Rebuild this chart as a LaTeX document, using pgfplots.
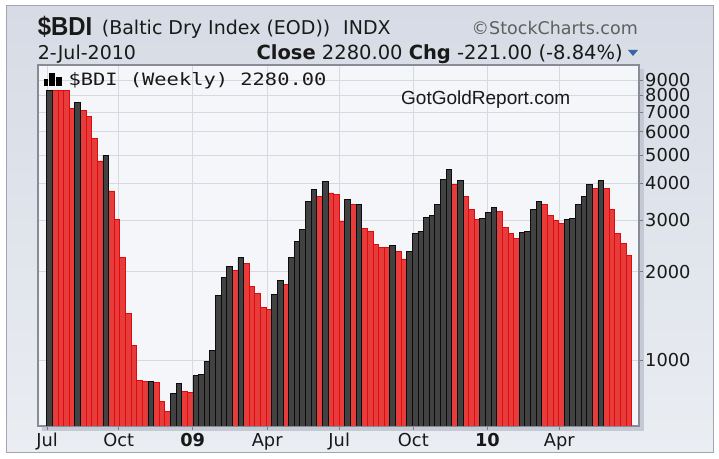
\documentclass[border=0pt]{standalone}
\usepackage{fontspec}
\setmainfont{DejaVu Sans}
\newfontfamily\arialf{Liberation Sans}
\newfontfamily\monof[FakeStretch=1.2]{DejaVu Sans Mono}
\usepackage{graphicx}
\usepackage{pgfplots}
\pgfplotsset{compat=1.18}

\definecolor{panelTop}{RGB}{214,219,229}
\definecolor{panelBot}{RGB}{234,237,242}
\definecolor{framec}{RGB}{160,165,175}
\definecolor{plotbg}{RGB}{245,246,250}
\definecolor{shadowc}{RGB}{196,201,211}
\definecolor{axisgray}{RGB}{135,140,150}
\definecolor{gridc}{RGB}{214,217,224}
\definecolor{tickc}{RGB}{120,125,135}
\definecolor{redfill}{RGB}{230,60,60}
\definecolor{redline}{RGB}{225,10,10}
\definecolor{darkfill}{RGB}{66,66,66}
\definecolor{darkline}{RGB}{12,12,12}
\definecolor{textc}{RGB}{25,25,25}
\definecolor{arrowc}{RGB}{60,100,165}

\begin{document}
\begin{tikzpicture}[x=1pt,y=1pt]
\useasboundingbox (0,0) rectangle (719,458);
\fill[white] (0,0) rectangle (719,458);
\shade[top color=panelTop, bottom color=panelBot] (6,6) rectangle (713,452);
\draw[framec, line width=1pt] (6,6) rectangle (713,452);
% shadow of the plot box
\fill[shadowc] (42,27) rectangle (644,389);

% header
\node[anchor=base west, inner sep=0, text=textc] at (37.7,422)
  {\scalebox{0.92}[1]{\arialf\bfseries\fontsize{26}{28}\selectfont \$BDI}};
\node[anchor=base west, inner sep=0, text=textc, font=\fontsize{19}{21}\selectfont] at (101.7,423.7) {(Baltic Dry Index (EOD))};
\node[anchor=base west, inner sep=0, text=textc, font=\fontsize{19}{21}\selectfont] at (343,423.7) {INDX};
\node[anchor=base east, inner sep=0, text={rgb,255:red,95;green,95;blue,95}, font=\fontsize{17.5}{20}\selectfont] at (638,423.5) {©StockCharts.com};
\node[anchor=base west, inner sep=0, text=textc, font=\fontsize{19}{21}\selectfont] at (37.7,398) {2-Jul-2010};
\node[anchor=base east, inner sep=0, text=textc, font=\fontsize{19.5}{21}\selectfont] at (623,398)
  {\textbf{Close} 2280.00 \textbf{Chg} -221.00 (-8.84\%)};
\fill[arrowc] (628,408) -- (638,408) -- (633,402) -- cycle;

\begin{axis}[
  at={(38pt,32pt)}, anchor=south west,
  width=601pt, height=361pt, scale only axis,
  ymode=log, log origin=infty,
  ymin=596, ymax=10130,
  xmin=-2.05, xmax=104.8,
  ybar, bar width=1, bar shift=0pt,
  axis background/.style={fill=plotbg},
  axis line style={draw=axisgray, line width=1.3pt},
  tick align=outside, major tick length=4pt,
  tick style={draw=tickc, line width=0.8pt},
  xtick pos=bottom, ytick pos=right,
  yticklabel pos=right,
  minor tick num=0,
  grid=major,
  major grid style={draw=gridc, line width=0.9pt},
  ytick={1000,2000,3000,4000,5000,6000,7000,8000,9000},
  yticklabels={1000,2000,3000,4000,5000,6000,7000,8000,9000},
  xtick={-0.45,12.3,25.46,38.7,51.5,64.68,77.85,90.63},
  xticklabels={Jul,Oct,\textbf{09},Apr,Jul,Oct,\textbf{10},Apr},
  ticklabel style={font=\fontsize{17.8}{19}\selectfont, text=textc},
  yticklabel style={anchor=west, inner sep=0pt, xshift=2pt},
  xticklabel style={anchor=north, inner sep=0pt, yshift=-3pt},
]
% down weeks
\addplot[ybar, bar shift=0pt, fill=redfill, draw=redline, line width=0.9pt] coordinates {
(1,8280) (2,8280) (3,8280) (4,7210) (6,7080) (7,6750) (8,5670) (9,4770)
(11,3770) (12,3020) (13,2240) (14,1440) (15,1120) (16,855) (17,843)
(19,840) (20,721) (21,666) (24,780) (25,778)
(33,2016) (35,2137) (36,1788) (37,1688) (38,1512) (39,1489) (42,1816)
(48,3600) (50,3710) (51,3660) (52,2970) (54,3380)
(56,2800) (57,2750) (58,2470) (59,2425) (60,2415) (62,2340) (63,2210)
(72,3970) (74,3600) (75,3260) (76,3020)
(80,3220) (81,2830) (82,2700) (83,2590)
(88,3380) (89,3120) (90,2980) (91,2920)
(97,3850) (99,3830) (100,3260) (101,2700) (102,2501) (103,2280)
};
% up weeks
\addplot[ybar, bar shift=0pt, fill=darkfill, draw=darkline, line width=0.9pt] coordinates {
(0,8280) (5,7540) (10,4990) (18,848) (22,770) (23,833)
(26,884) (27,890) (28,987) (29,1082) (30,1666) (31,1914) (32,2090) (34,2240)
(40,1679) (41,1874) (43,2236) (44,2530) (45,2790) (46,3470) (47,3820)
(49,4060) (53,3530) (55,3390) (61,2450)
(64,2340) (65,2700) (66,2750) (67,3070) (68,3120) (69,3380) (70,4130) (71,4470)
(73,4080) (77,3030) (78,3180) (79,3320)
(84,2720) (85,2750) (86,3260) (87,3480)
(92,3020) (93,3030) (94,3380) (95,3600) (96,3970) (98,4080)
};
\end{axis}

% legend strip inside the plot
\fill[black] (44,372) rectangle (47.5,379);
\fill[black] (48.5,372) rectangle (55,385);
\fill[black] (56,372) rectangle (61.5,381);
\node[anchor=base west, inner sep=0, text=textc, font=\monof\fontsize{17}{19}\selectfont] at (68.3,372) {\$BDI (Weekly) 2280.00};
\node[anchor=base west, inner sep=0, text=textc, font=\arialf\fontsize{19}{21}\selectfont] at (401,353) {GotGoldReport.com};
\end{tikzpicture}
\end{document}
